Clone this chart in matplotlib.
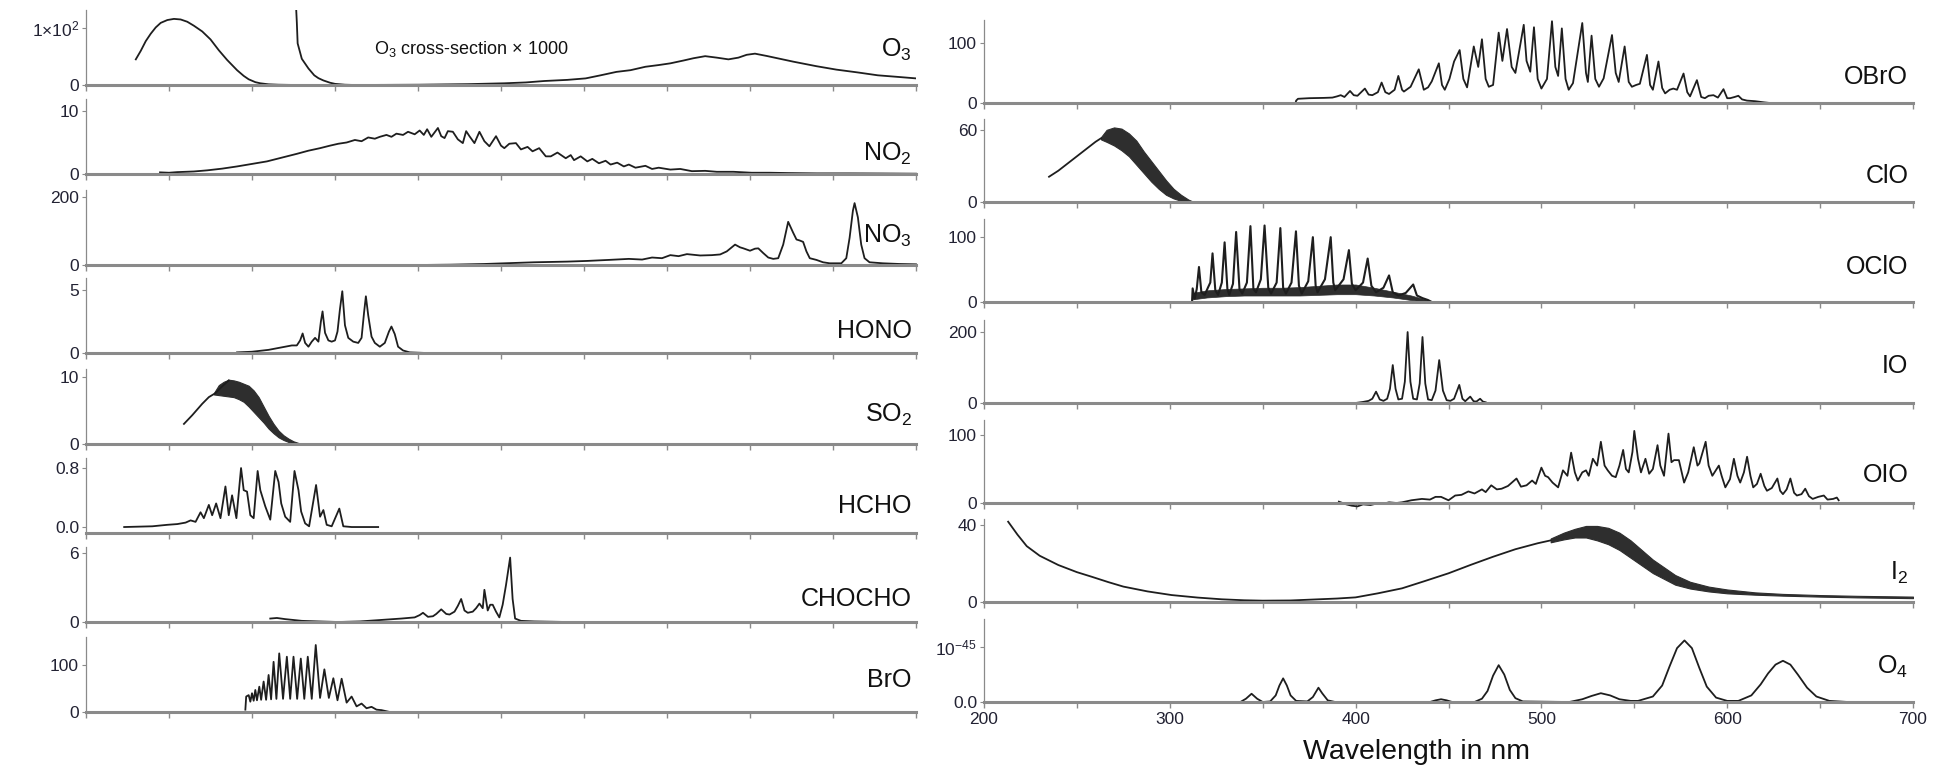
import numpy as np
import matplotlib
matplotlib.use("Agg")
import matplotlib.pyplot as plt

plt.rcParams['font.family'] = ['Liberation Sans', 'DejaVu Sans']
plt.rcParams['mathtext.fontset'] = 'custom'
plt.rcParams['mathtext.rm'] = 'Liberation Sans'
plt.rcParams['mathtext.it'] = 'Liberation Sans:italic'

# ---- spectra: (wavelength nm, value) ----
o3 = [(230, 45), (233, 60), (236, 77), (239, 90), (242, 101), (245, 109), (249, 114), (253, 116),
      (257, 115), (261, 111), (265, 104), (270, 94), (275, 80), (280, 61), (285, 44), (291, 26),
      (295, 16), (298, 10), (302, 5), (305, 3), (310, 1.2), (316, 0.5), (327, 0)]
o3_x1000 = [(326.5, 140), (327, 110), (327.5, 73), (330, 46), (334, 29), (337.5, 17), (340, 12),
            (343, 8), (347, 4), (350, 2), (356, 0.5), (362, 0), (400, 0.5), (430, 1.5), (452, 3),
            (465, 4.5), (476, 7), (490, 9), (501, 11.6), (510, 17), (519.5, 23), (528, 26), (537, 32),
            (545, 35), (552, 38), (560, 43), (566, 47), (573, 50.6), (580, 48), (587, 45), (593, 48),
            (598, 53), (603, 55), (610, 51), (618, 46), (626, 41), (640, 33), (652, 27), (665, 22),
            (677, 17), (690, 14), (700, 11.6)]
no2 = [(244.6, 0.26), (250, 0.2), (255, 0.3), (265, 0.4), (273, 0.58), (282, 0.85), (291, 1.2),
       (300, 1.6), (309, 2.0), (318, 2.6), (327, 3.2), (334, 3.7), (341, 4.1), (347, 4.5), (352, 4.8),
       (357, 5.0), (362, 5.4), (366, 5.2), (370, 5.8), (374, 5.6), (377, 5.9), (381, 6.2), (384, 5.9),
       (387, 6.4), (391, 6.2), (394, 6.7), (398, 6.3), (401, 6.9), (403.5, 6.2), (405.5, 7.1),
       (408, 5.9), (412, 7.3), (414, 6.0), (416, 5.7), (418, 6.8), (421, 6.7), (424, 5.5), (427, 4.9),
       (429, 6.8), (431, 6.0), (434, 4.9), (437, 6.7), (440, 5.2), (443, 4.4), (447, 6.0), (450, 4.5),
       (452, 4.1), (455, 4.8), (459, 4.9), (462, 3.9), (466, 4.3), (469, 3.6), (473, 4.1), (477, 2.8),
       (480, 2.8), (484, 3.4), (489, 2.5), (492, 3.0), (494, 2.2), (498, 2.8), (502, 2.0), (505, 2.4),
       (509, 1.7), (513, 2.1), (516, 1.5), (520, 1.8), (524, 1.2), (527, 1.5), (531, 1.0), (537, 1.3),
       (541, 0.8), (545, 1.0), (552, 0.7), (558, 0.8), (565, 0.45), (573, 0.5), (580, 0.35),
       (590, 0.35), (601, 0.2), (612, 0.2), (623, 0.15), (640, 0.1), (660, 0.1), (680, 0.08), (700, 0.05)]
no3 = [(400, 0), (420, 1), (440, 3), (452, 5), (470, 8), (490, 10), (502, 12), (515, 15), (527, 18),
       (535, 16), (541, 22), (547, 20), (552, 29), (557, 26), (562, 32), (570, 28), (577, 29), (582, 31),
       (586, 40), (591, 60), (594, 52), (596, 49), (600, 42), (603, 48), (605, 49), (608, 35), (611, 22),
       (614, 18), (617, 20), (620, 60), (623, 127), (626, 95), (628, 75), (630, 72), (632, 68), (634, 40),
       (636, 20), (640, 15), (644, 8), (648, 5), (655, 5), (658, 20), (660, 80), (662, 160), (663, 182),
       (665, 140), (667, 60), (669, 20), (672, 8), (680, 5), (690, 3), (700, 2)]
hono = [(291, 0.05), (300, 0.1), (310, 0.25), (316, 0.4), (320, 0.5), (324, 0.6), (327, 0.6), (329, 1.0),
        (330.5, 1.55), (332, 0.8), (334, 0.5), (336, 0.9), (338, 1.2), (340, 0.9), (341.5, 2.5),
        (342.5, 3.3), (344, 1.6), (346, 1.0), (348, 0.9), (350, 1.0), (351.5, 1.7), (353, 3.5),
        (354.4, 4.9), (356, 2.2), (358, 1.2), (361, 0.9), (364, 0.8), (366, 1.2), (367.5, 3.2),
        (368.6, 4.5), (370, 3.0), (372, 1.3), (374, 0.8), (377, 0.5), (380, 0.8), (382.5, 1.7),
        (384, 2.1), (386, 1.5), (388, 0.5), (391, 0.2), (395, 0.05), (405, 0.0)]
so2 = [(259, 3.0), (264, 4.3), (270, 6.0), (274, 7.0), (278, 7.6), (282, 8.6), (286, 9.5)]
so2_band_wl = [277, 280, 283, 286, 289, 292, 295, 298, 301, 304, 307, 310, 313, 316, 319, 322, 325, 328, 330]
so2_band_hi = [7.6, 8.8, 9.3, 9.6, 9.5, 9.3, 9.0, 8.7, 8.0, 7.0, 5.6, 4.2, 3.0, 2.0, 1.3, 0.8, 0.4, 0.15, 0.0]
so2_band_lo = [7.4, 7.3, 7.2, 7.1, 7.0, 6.7, 6.3, 5.6, 4.8, 4.0, 3.2, 2.3, 1.6, 1.0, 0.6, 0.3, 0.1, 0.0, 0.0]
hcho = [(223, 0), (240, 0.01), (249, 0.03), (255, 0.04), (260, 0.06), (263, 0.09), (266, 0.07),
        (269, 0.2), (271, 0.12), (274, 0.3), (276, 0.16), (278.4, 0.32), (281, 0.12), (284, 0.55),
        (286, 0.16), (288, 0.43), (290.6, 0.12), (293.4, 0.8), (295, 0.5), (297, 0.48), (299, 0.16),
        (301, 0.12), (303.4, 0.76), (305, 0.5), (308, 0.28), (311, 0.1), (314, 0.76), (316, 0.61),
        (317.6, 0.32), (320, 0.14), (323, 0.07), (325.6, 0.76), (328, 0.5), (329.6, 0.21), (332, 0.05),
        (334.4, 0.01), (338.6, 0.57), (341, 0.14), (343, 0.23), (345, 0.03), (348, 0.01), (352.6, 0.25),
        (355, 0.01), (360, 0), (376, 0)]
chocho = [(311, 0.3), (315, 0.35), (320, 0.25), (330, 0.1), (340, 0.05), (352, 0.0), (365, 0.05),
          (380, 0.2), (390, 0.3), (398, 0.4), (401, 0.6), (403, 0.8), (406, 0.45), (409, 0.5), (411, 0.7),
          (414, 1.1), (417, 0.7), (419, 0.65), (422, 0.9), (424, 1.4), (426, 2.0), (428, 1.0), (430, 0.8),
          (433, 0.9), (435, 1.2), (437, 1.6), (439, 1.2), (440, 2.8), (442, 1.0), (443.5, 1.5), (445, 1.5),
          (447, 0.9), (449, 0.4), (451, 1.5), (453, 3.2), (455.5, 5.6), (457, 2.0), (458.5, 0.3),
          (462, 0.1), (470, 0.05), (490, 0.0), (527, 0.0)]
bro = [(296, 5), (296.5, 33), (298, 36), (299, 22), (300, 40), (301, 24), (302, 47), (303, 25),
       (304.4, 54), (305.5, 26), (307, 65), (308.5, 26), (310, 79), (311.5, 27), (313, 107), (314.7, 28),
       (316.4, 125), (318.7, 28), (321, 118), (323, 28), (325, 118), (327.2, 28), (329.4, 114), (331.5, 28),
       (333.6, 118), (336, 28), (338.4, 143), (341, 30), (343.6, 91), (346.3, 30), (349, 72), (351.5, 25),
       (354, 71), (357, 20), (360, 33), (363, 12), (366, 18), (369, 8), (372, 11), (375, 5), (378, 4),
       (383, 0)]

obro = [(367.7, 0), (368, 4), (369, 7), (375, 8), (383, 8.5), (387.5, 9), (390, 11), (392, 13), (394, 10),
        (397, 20), (399, 13), (401, 12), (405, 24), (407, 14), (409, 13), (412, 18), (414, 34), (416, 18),
        (418, 15), (421, 22), (423, 45), (425, 22), (426, 19), (429.6, 27), (434, 56), (436.7, 22),
        (439, 26), (441, 36), (444.8, 66), (446.5, 30), (448, 22), (450.5, 40), (453, 69), (456, 88),
        (458, 40), (460, 26), (463.6, 94), (466, 60), (468, 106), (470, 40), (471.7, 27), (474, 30),
        (477, 117), (479, 70), (481.5, 123), (484, 60), (486, 50), (490.5, 130), (492, 70), (494, 52),
        (496, 126), (498, 40), (500, 24), (503, 40), (505.7, 136), (507.5, 60), (509, 45), (511, 124),
        (513, 40), (514.7, 22), (517, 33), (522, 133), (524, 50), (525, 35), (527, 112), (529, 40),
        (531, 27), (533.5, 41), (538, 113), (540, 50), (541.6, 35), (544.8, 94), (547, 35), (548.7, 27),
        (551, 30), (553, 32), (556.8, 80), (558.5, 30), (560, 22), (563, 69), (565, 25), (566.6, 16),
        (569, 22), (571, 24), (573, 22), (576.5, 49), (578.5, 18), (580, 11), (583.7, 38), (586, 10),
        (588, 8), (590, 12), (592.6, 13), (595, 9), (598, 23), (600, 8), (601.6, 8), (604, 10), (606, 12),
        (608, 6), (610.6, 4), (615, 3), (620, 1), (623, 0)]
clo = [(235, 21), (240, 26), (245, 32), (250, 38), (255, 44), (260, 50), (263, 53)]
clo_band_wl = [263, 266, 270, 274, 278, 282, 286, 290, 294, 298, 302, 306, 310, 313]
clo_band_hi = [54, 60, 62, 61, 57, 51, 42, 34, 26, 18, 11, 6, 2, 0]
clo_band_lo = [52, 50, 47, 43, 38, 31, 24, 17, 11, 6, 3, 1, 0, 0]
oclo = [(312, 2), (312.3, 21), (313.4, 5), (314.5, 20), (315.7, 54), (317, 15), (318.8, 11), (320.5, 22),
        (321.8, 30), (323, 75), (324.5, 18), (326, 11), (328, 30), (329.5, 92), (331, 20), (332, 11),
        (334, 28), (335.7, 108), (337.5, 20), (339, 13), (341.5, 30), (343.4, 117), (345, 20), (346.4, 15),
        (349, 35), (351, 118), (353, 22), (354.5, 13), (357.5, 30), (359.5, 114), (361, 22), (362.5, 13),
        (365.5, 30), (367.9, 109), (369.5, 25), (371, 13), (374.5, 32), (377, 100), (378.5, 25),
        (379.5, 15), (383.5, 35), (386.6, 100), (388, 30), (389, 18), (393.5, 35), (396.4, 80), (398, 28),
        (400, 18), (404, 30), (406.5, 67), (408.5, 25), (411, 15), (415, 22), (418, 41), (420, 15),
        (423, 10), (427, 14), (431, 27), (433, 10), (436, 6), (439, 3), (441, 0)]
oclo_floor_wl = [312, 320, 330, 340, 350, 360, 370, 380, 390, 400, 410, 420, 430, 440]
oclo_floor_hi = [14, 18, 20, 21, 22, 22, 23, 25, 27, 27, 22, 16, 10, 2]
oclo_floor_lo = [4, 7, 9, 10, 10, 10, 10, 11, 12, 12, 10, 7, 3, 0]
io = [(400, 0), (404, 3), (407, 6), (409, 12), (411, 32), (413, 10), (415, 6), (417, 12), (418.5, 40),
      (420, 107), (421.5, 40), (423, 10), (425, 12), (426.5, 60), (428, 200), (429.5, 60), (431, 12),
      (433, 10), (434.5, 55), (436, 186), (437.5, 55), (439, 10), (441, 8), (443, 35), (445, 121),
      (447, 35), (449, 8), (451, 6), (453, 12), (455.8, 51), (457.5, 12), (459, 5), (461.7, 18),
      (463.5, 5), (465, 4), (467, 12), (468.5, 4), (470, 2)]
oio = [(391, 2), (395, -2), (398, -4), (401, -5), (404, -2), (408, -3), (411, -1), (415, -1), (418, 1),
       (422, 0), (425, 1), (430, 4), (435.7, 6), (440, 5), (443, 9), (446, 9), (450, 4), (453.6, 11),
       (457, 12), (460.7, 17), (464, 14), (468, 20), (470, 16), (473, 26), (476, 20), (478.6, 21),
       (482, 25), (486.6, 36), (489, 24), (492, 26), (495, 33), (497, 28), (500, 52), (502, 40),
       (503.6, 38), (506, 30), (509, 23), (511.6, 48), (514, 40), (516, 74), (518, 45), (519.6, 33),
       (522, 45), (524, 48), (525.5, 40), (527.7, 65), (530, 55), (532, 90), (534, 55), (535.7, 48),
       (538, 40), (540, 38), (542, 55), (544, 78), (545.5, 50), (547, 45), (549, 75), (550, 106), (552, 65),
       (553.6, 45), (556, 65), (558, 43), (560, 50), (562.5, 85), (564, 55), (566, 40), (568.4, 102),
       (570, 60), (571.4, 63), (574, 63), (576.8, 30), (579, 45), (582, 82), (584, 55), (585, 58),
       (588.4, 90), (590, 55), (592, 40), (595.5, 55), (597, 40), (599, 23), (601.5, 35), (603.6, 65),
       (605.5, 40), (607, 30), (609, 45), (610.7, 68), (612.5, 40), (614, 23), (616, 28), (618, 43),
       (620, 25), (621.4, 18), (624, 22), (627, 36), (628.5, 18), (630, 13), (632, 20), (634, 36),
       (636, 15), (637.5, 11), (640, 13), (642, 21), (644, 10), (646, 6), (649, 9), (652, 11), (654, 5),
       (657, 6), (659, 8), (660, 4)]
i2 = [(213, 41.7), (218, 35), (223, 29), (230, 24), (240, 19.2), (250, 15.5), (258, 13.1), (267, 10.3),
      (275, 8), (288, 5.5), (301, 3.6), (315, 2.3), (328, 1.4), (340, 0.9), (350, 0.7), (365, 0.8),
      (380, 1.4), (390, 1.8), (400, 2.4), (412, 4.5), (425, 7.1), (437, 10.8), (450, 14.9), (462, 19.3),
      (474, 23.5), (486, 27.4), (498, 30.5), (505, 32)]
i2_band_wl = [505, 512, 518, 524, 530, 536, 542, 548, 554, 560, 566, 572, 580, 590, 600, 615, 630, 650, 670, 700]
i2_band_hi = [33, 36, 38, 39.5, 39.5, 38.5, 36, 32, 27, 22, 18, 14, 10.5, 8, 6.5, 5, 4.2, 3.6, 3.2, 2.8]
i2_band_lo = [31, 32.5, 33.5, 33.5, 32, 30, 27, 23, 19, 15, 12, 9, 7, 5.5, 4.5, 3.8, 3.3, 2.8, 2.4, 2.0]
o4 = [(334, 0), (338, 0.0), (341, 0.06), (344, 0.15), (347, 0.06), (350, 0.0), (354, 0.01), (357, 0.12),
      (359, 0.30), (361, 0.43), (363, 0.30), (365, 0.12), (368, 0.02), (374, 0.01), (377, 0.09),
      (380, 0.26), (382, 0.16), (385, 0.03), (389, 0.0), (440, 0), (443, 0.03), (446, 0.05), (449, 0.03),
      (452, 0), (464, 0.0), (468, 0.06), (471, 0.2), (474, 0.48), (477, 0.67), (480, 0.5), (483, 0.22),
      (486, 0.07), (490, 0.01), (515, 0.0), (522, 0.05), (527, 0.11), (532, 0.16), (537, 0.12),
      (542, 0.05), (548, 0.02), (552, 0.02), (560, 0.10), (565, 0.30), (569, 0.65), (573, 0.98),
      (577, 1.12), (581, 0.98), (585, 0.62), (589, 0.28), (594, 0.08), (600, 0.02), (606, 0.02),
      (613, 0.12), (618, 0.32), (622, 0.52), (626, 0.68), (630, 0.75), (634, 0.68), (638, 0.50),
      (643, 0.26), (648, 0.10), (655, 0.02), (665, 0.0), (690, 0.0)]

# panel set-up: (label, baseline px, ylim bottom, ylim top, tick value, tick label, label y)
left_panels = [("O$_3$", 85, 0, 131.6, 100, "1$\\times$10$^2$", 0.47),
               ("NO$_2$", 174, 0, 11.9, 10, "10", 0.27),
               ("NO$_3$", 265, 0, 220.6, 200, "200", 0.39),
               ("HONO", 353, 0, 5.95, 5, "5", 0.29),
               ("SO$_2$", 444, 0, 11.2, 10, "10", 0.39),
               ("HCHO", 533, -0.081, 0.936, 0.8, "0.8", 0.36),
               ("CHOCHO", 622, 0, 6.52, 6, "6", 0.31),
               ("BrO", 712, 0, 160, 100, "100", 0.43)]
right_panels = [("OBrO", 103, 0, 138, 100, "100", 0.31),
                ("ClO", 202, 0, 69, 60, "60", 0.31),
                ("OClO", 302, 0, 128, 100, "100", 0.42),
                ("IO", 403, 0, 234, 200, "200", 0.45),
                ("OIO", 503, 0, 122, 100, "100", 0.34),
                ("I$_2$", 602, 0, 43.1, 40, "40", 0.35),
                ("O$_4$", 702, 0, 1.51, 1, "10$^{-45}$", 0.42)]

W, H = 1944, 766
fig = plt.figure(figsize=(W / 100, H / 100), dpi=100)
ink = '#1e1e1e'
band = '#2e2e2e'
axis_grey = '#8a8a8a'


def make_panel(x0, x1, h, spec, show_x=False):
    label, base, ylo, yhi, tick, ticklabel, label_y = spec
    ax = fig.add_axes([x0 / W, 1 - base / H, (x1 - x0) / W, h / H])
    ax.patch.set_alpha(0)
    ax.set_xlim(200, 700)
    ax.set_ylim(ylo, yhi)
    ax.spines['top'].set_visible(False)
    ax.spines['right'].set_visible(False)
    ax.spines['bottom'].set_color(axis_grey)
    ax.spines['bottom'].set_linewidth(2.2)
    ax.spines['left'].set_color(axis_grey)
    ax.spines['left'].set_linewidth(0.9)
    ax.set_xticks(np.arange(200, 701, 100))
    ax.set_xticks(np.arange(250, 700, 100), minor=True)
    ax.tick_params(axis='x', which='both', direction='out', length=4, width=1, color=axis_grey,
                   labelsize=12.5, labelcolor='#222233', labelbottom=show_x, pad=3)
    ax.set_yticks([0, tick])
    ax.set_yticklabels(["0.0" if isinstance(tick, float) or ticklabel.startswith("10$^{-") else "0",
                        ticklabel])
    ax.tick_params(axis='y', direction='out', length=3, width=0.8, color=axis_grey,
                   labelsize=12.5, labelcolor='#222233', pad=2)
    ax.text(0.995, label_y, label, transform=ax.transAxes, ha='right', va='center',
            fontsize=18, color='#111111')
    return ax


def draw(ax, pairs, clip=False, lw=1.3):
    wl, val = np.array(pairs, dtype=float).T
    ax.plot(wl, val, color=ink, lw=lw, clip_on=clip, solid_joinstyle='round')


left_axes = [make_panel(86, 916, 75, p) for p in left_panels]
right_axes = [make_panel(984, 1913, 83, p, show_x=(i == len(right_panels) - 1))
              for i, p in enumerate(right_panels)]

ax_o3, ax_no2, ax_no3, ax_hono, ax_so2, ax_hcho, ax_chocho, ax_bro = left_axes
ax_obro, ax_clo, ax_oclo, ax_io, ax_oio, ax_i2, ax_o4 = right_axes

draw(ax_o3, o3)
draw(ax_o3, o3_x1000, clip=True)
ax_o3.text(0.347, 0.48, "O$_3$ cross-section \u00d7 1000", transform=ax_o3.transAxes,
           ha='left', va='center', fontsize=13, color='#111111')
draw(ax_no2, no2)
draw(ax_no3, no3)
draw(ax_hono, hono)
draw(ax_so2, so2)
ax_so2.fill_between(so2_band_wl, so2_band_lo, so2_band_hi, color=band, lw=0.8)
draw(ax_hcho, hcho)
draw(ax_chocho, chocho)
draw(ax_bro, bro)

draw(ax_obro, obro)
draw(ax_clo, clo)
ax_clo.fill_between(clo_band_wl, clo_band_lo, clo_band_hi, color=band, lw=0.8)
ax_oclo.fill_between(oclo_floor_wl, oclo_floor_lo, oclo_floor_hi, color=band, lw=0.5)
draw(ax_oclo, oclo, lw=1.5)
draw(ax_io, io)
draw(ax_oio, oio)
draw(ax_i2, i2)
ax_i2.fill_between(i2_band_wl, i2_band_lo, i2_band_hi, color=band, lw=0.8)
draw(ax_o4, o4)

fig.text(1416 / W, 1 - 752 / H, "Wavelength in nm", ha='center', va='center', fontsize=20.5,
         color='#111111')

fig.savefig("out.png", dpi=100)
